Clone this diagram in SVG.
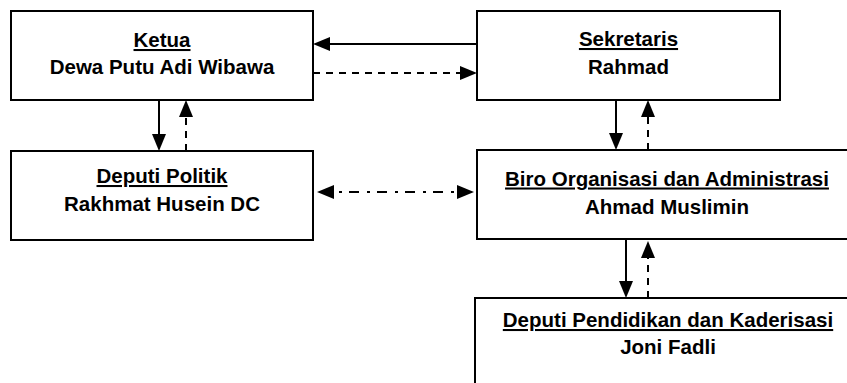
<svg xmlns="http://www.w3.org/2000/svg" width="847" height="383" viewBox="0 0 847 383">
<style>
.box{fill:#fff;stroke:#000;stroke-width:2}
.t{font-family:"Liberation Sans",Arial,sans-serif;font-weight:bold;font-size:20.5px;fill:#000;text-anchor:middle}
.u{text-decoration:underline}
.c{fill:none;stroke:#000;stroke-width:2}
.d{stroke-dasharray:7,6}
.dd{stroke-dasharray:10,8,3,7}
</style>
<defs>
<marker id="ah" markerUnits="userSpaceOnUse" markerWidth="17" markerHeight="14" refX="13" refY="7" orient="auto-start-reverse" overflow="visible">
<path d="M0,0 L17,7 L0,14 Z" fill="#000"/>
</marker>
</defs>
<rect width="847" height="383" fill="#fff"/>
<g id="ketua">
<rect class="box" x="11" y="11" width="302" height="89"/>
<text class="t u" x="162" y="47">Ketua</text>
<text class="t" x="162" y="74">Dewa Putu Adi Wibawa</text>
</g>
<g id="sekretaris">
<rect class="box" x="477" y="11" width="303" height="89"/>
<text class="t u" x="628.5" y="46">Sekretaris</text>
<text class="t" x="628.5" y="73.5">Rahmad</text>
</g>
<g id="deputi-politik">
<rect class="box" x="11" y="151" width="302" height="89"/>
<text class="t u" x="162" y="183">Deputi Politik</text>
<text class="t" x="162" y="211">Rakhmat Husein DC</text>
</g>
<g id="biro">
<rect class="box" x="477" y="150" width="380" height="89"/>
<text class="t u" x="667" y="185.5">Biro Organisasi dan Administrasi</text>
<text class="t" x="667" y="213.5">Ahmad Muslimin</text>
</g>
<g id="deputi-pendidikan">
<rect class="box" x="475" y="298" width="382" height="110"/>
<text class="t u" x="668" y="327">Deputi Pendidikan dan Kaderisasi</text>
<text class="t" x="668" y="354">Joni Fadli</text>
</g>
<g id="connectors">
<path class="c" d="M477,44 H317" marker-end="url(#ah)"/>
<path class="c d" d="M313,73 H473" marker-end="url(#ah)"/>
<path class="c" d="M159,100 V147" marker-end="url(#ah)"/>
<path class="c d" d="M186,151 V104" marker-end="url(#ah)"/>
<path class="c dd" d="M321,192 H470" marker-start="url(#ah)" marker-end="url(#ah)"/>
<path class="c" d="M616,100 V146" marker-end="url(#ah)"/>
<path class="c d" d="M648,150 V104" marker-end="url(#ah)"/>
<path class="c" d="M626,239 V294" marker-end="url(#ah)"/>
<path class="c d" d="M648,298 V245" marker-end="url(#ah)"/>
</g>
</svg>
